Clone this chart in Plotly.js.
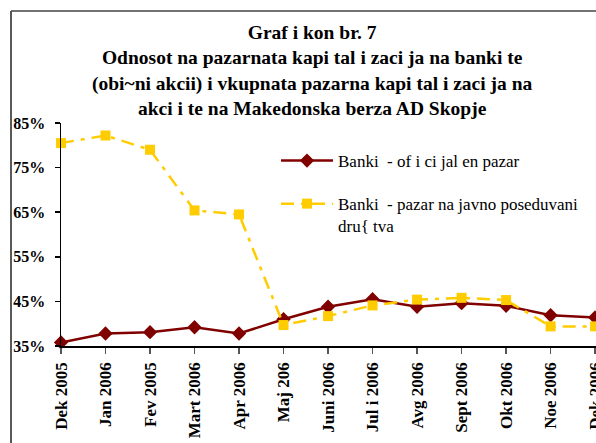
<!DOCTYPE html>
<html>
<head>
<meta charset="utf-8">
<script src="https://cdn.plot.ly/plotly-3.0.1.min.js"></script>
<style>
html,body{margin:0;padding:0;background:#fff;}
#chart{width:596px;height:443px;}
</style>
</head>
<body>
<div id="chart"></div>
<script>
const categories = ['Dek 2005','Jan 2006','Fev 2005','Mart 2006','Apr 2006','Maj 206','Juni 2006','Jul i 2006','Avg 2006','Sept 2006','Okt 2006','Noe 2006','Dek 2006'];
const officialMarket = [35.8, 37.8, 38.1, 39.2, 37.8, 41.0, 43.8, 45.5, 43.8, 44.6, 44.0, 41.9, 41.4];
const publicMarket = [80.5, 82.2, 79.0, 65.4, 64.5, 39.7, 41.7, 44.1, 45.4, 45.8, 45.3, 39.4, 39.4];
const yTickVals = [35, 45, 55, 65, 75, 85];
const yTickText = ['35%', '45%', '55%', '65%', '75%', '85%'];
const seriesNames = ['Banki  - of i ci jal en pazar', 'Banki  - pazar na javno poseduvani<br>dru{ tva'];
const titleText = 'Graf i kon br. 7<br>Odnosot na pazarnata kapi tal i zaci ja na banki te<br>(obi~ni akcii) i vkupnata pazarna kapi tal i zaci ja na<br>akci i te na Makedonska berza AD Skopje';

const W = 596, H = 443;
const M = {l: 61, r: 0, t: 123, b: 97};
const pw = W - M.l - M.r, ph = H - M.t - M.b;
const px2x = p => (p - M.l) / pw;
const px2y = p => (H - M.b - p) / ph;

const serif = 'Liberation Serif';

const traces = [
  {
    x: categories, y: officialMarket, name: seriesNames[0], type: 'scatter', mode: 'lines+markers',
    line: {color: '#800000', width: 2.5},
    marker: {symbol: 'diamond', size: 11, color: '#800000'},
    cliponaxis: false, legendgroup: 'a'
  },
  {
    x: categories, y: publicMarket, name: seriesNames[1], type: 'scatter', mode: 'lines+markers',
    line: {color: '#FFCC00', width: 2.5, dash: '13px,7px,4px,7px'},
    marker: {symbol: 'square', size: 10, color: '#FFCC00'},
    cliponaxis: false, legendgroup: 'b'
  }
];

const layout = {
  width: W, height: H,
  margin: M,
  paper_bgcolor: '#fff', plot_bgcolor: '#fff',
  showlegend: true,
  font: {family: serif},
  xaxis: {
    type: 'category', range: [0, 12.02],
    showgrid: false, zeroline: false,
    showline: true, linecolor: '#000', linewidth: 1.5,
    ticks: 'outside', ticklen: 6, tickcolor: '#555', tickwidth: 1.5,
    tickangle: -90, ticklabelstandoff: 2,
    tickfont: {family: serif, size: 17, color: '#000', weight: 'bold'},
    automargin: false, fixedrange: true
  },
  yaxis: {
    range: [35, 85],
    tickvals: yTickVals, ticktext: yTickText,
    showgrid: false, zeroline: false,
    showline: true, linecolor: '#000', linewidth: 1.5,
    ticks: 'outside', ticklen: 5, tickcolor: '#000', tickwidth: 1.5,
    ticklabelstandoff: 6,
    tickfont: {family: serif, size: 16, color: '#000', weight: 'bold'},
    automargin: false, fixedrange: true
  },
  legend: {
    x: px2x(276), xanchor: 'left',
    y: px2y(143), yanchor: 'top',
    bgcolor: 'rgba(0,0,0,0)',
    font: {family: serif, size: 17, color: '#000'},
    traceorder: 'grouped', tracegroupgap: 18,
    itemwidth: 52, valign: 'top'
  },
  annotations: [
    {
      text: titleText, showarrow: false,
      xref: 'paper', yref: 'paper',
      x: px2x(312), xanchor: 'center',
      y: px2y(20), yanchor: 'top',
      align: 'center',
      font: {family: serif, size: 19.5, color: '#000', weight: 'bold'}
    }
  ],
  shapes: [
    {type: 'line', xref: 'paper', yref: 'paper', x0: px2x(11), x1: px2x(11), y0: px2y(11), y1: px2y(H + 5), line: {color: '#222', width: 1.5}},
    {type: 'line', xref: 'paper', yref: 'paper', x0: px2x(11), x1: px2x(W + 5), y0: px2y(11), y1: px2y(11), line: {color: '#444', width: 1.5}}
  ]
};

Plotly.newPlot('chart', traces, layout, {staticPlot: true, displayModeBar: false});
</script>
</body>
</html>
